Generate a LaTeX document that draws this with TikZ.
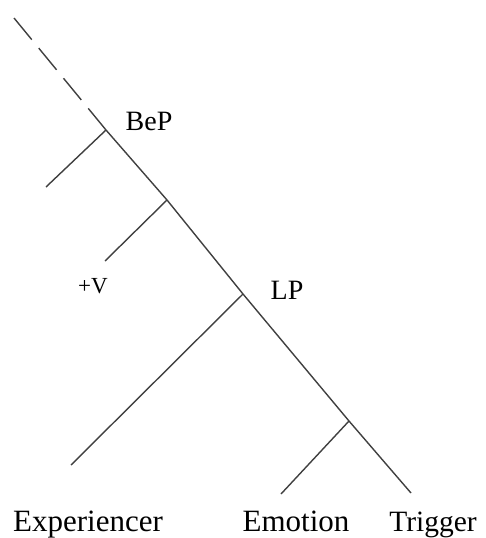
\documentclass[tikz,border=0pt]{standalone}
\usepackage{fontspec}
\setmainfont{Liberation Serif}
\usepackage{tikz}
\usetikzlibrary{positioning}

\begin{document}
\begin{tikzpicture}[
  x=1pt, y=-1pt,
  branch/.style={line width=1.4pt, draw=black!75},
  spine/.style={branch, dash pattern=on 28pt off 11pt},
  lbl/.style={anchor=base, inner sep=0pt, font=\fontsize{28}{32}\selectfont},
  leaf/.style={anchor=base, inner sep=0pt, font=\fontsize{31}{36}\selectfont},
  small/.style={anchor=base, inner sep=0pt, font=\fontsize{23}{28}\selectfont}
]
\useasboundingbox (0,0) rectangle (485,538);
\coordinate (top) at (14,18);
\coordinate (bep) at (106,130);
\coordinate (bepspec) at (46,187);
\coordinate (vbar) at (167,200);
\coordinate (vhead) at (105,261);
\coordinate (lp) at (243,294);
\coordinate (exp) at (71,465);
\coordinate (lbar) at (349,421);
\coordinate (emo) at (281,494);
\coordinate (trig) at (411,493);

\node[lbl] (beplabel) at (149,130) {BeP};
\node[small] (vlabel) at (93,293) {+V};
\node[lbl] (lplabel) at (287,299) {LP};
\node[leaf] (explabel) at (88,531) {Experiencer};
\node[leaf] (emolabel) at (296,531) {Emotion};
\node[leaf, font=\fontsize{29.5}{36}\selectfont] (triglabel) at (433,531) {Trigger};

\draw[spine] (top) -- (bep);
\draw[branch] (bep) -- (vbar) -- (lp) -- (lbar) -- (trig);
\draw[branch] (bep) -- (bepspec);
\draw[branch] (vbar) -- (vhead);
\draw[branch] (lp) -- (exp);
\draw[branch] (lbar) -- (emo);
\end{tikzpicture}
\end{document}
